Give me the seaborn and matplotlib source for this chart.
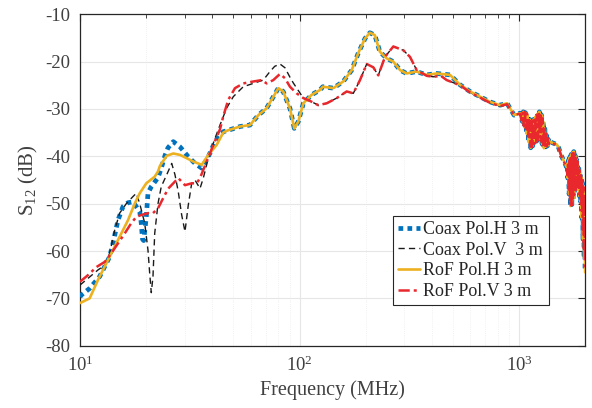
import matplotlib
matplotlib.use("Agg")
import matplotlib.pyplot as plt
import seaborn as sns
import pandas as pd
from matplotlib.ticker import LogLocator, MultipleLocator

# ---------------- data ----------------
# low band, individual per series
freq_coax_h = [10.0, 10.14, 11.07, 12.29, 13.65, 14.13, 14.89, 15.70, 16.54, 17.43, 18.71, 19.01,
               19.26, 19.5, 20.04, 20.40, 21.12, 22.66, 23.45, 24.4, 25.16, 26.6, 28.54, 31.13,
               33.40, 35.84, 38.39, 41.19, 44.9]
s12_coax_h = [-69.7, -69.3, -67.9, -65.4, -61.2, -58.4, -53.5, -50.6, -49.8, -49.6, -51.7, -54.1,
              -57.5, -57.8, -52.8, -47.8, -46.4, -44.5, -42.5, -39.8, -38.2, -36.9, -38.0, -40.1,
              -41.5, -42.5, -40.1, -36.9, -34.8]

freq_rof_h = [10.0, 11.07, 12.08, 13.41, 14.89, 16.54, 17.75, 18.71, 20.04, 21.89, 22.66, 23.13,
              24.82, 26.60, 28.54, 30.61, 32.81, 35.84, 38.39, 41.9, 44.9]
s12_rof_h = [-71.0, -70.0, -66.1, -61.9, -57.7, -53.5, -50.0, -47.8, -45.7, -44.3, -43.2, -42.0,
             -39.9, -39.4, -39.7, -40.4, -41.1, -41.8, -39.7, -37.6, -35.0]

freq_coax_v = [10.0, 10.87, 12.08, 12.96, 13.65, 14.39, 15.16, 16.25, 17.43, 18.05, 18.71, 19.71,
               20.40, 20.77, 21.12, 21.50, 21.89, 22.66, 23.45, 24.82, 26.16, 27.08, 28.03, 29.05,
               30.07, 31.13, 32.26, 33.40, 35.19, 36.44, 38.39, 41.19, 43.4, 46.56, 49.9, 55.4,
               61.5, 68.3, 73.3, 77.0, 81.4, 85.8, 90.4, 93.6, 100.0]
s12_coax_v = [-67.2, -65.8, -64.0, -63.0, -60.5, -55.6, -52.0, -50.0, -48.5, -47.8, -50.0, -54.1,
              -59.8, -64.7, -68.8, -65.4, -56.3, -50.0, -46.4, -43.9, -41.5, -43.9, -47.5, -52.4,
              -55.9, -50.3, -45.7, -45.0, -46.8, -44.6, -40.4, -36.2, -33.4, -29.8, -27.4, -25.3,
              -24.6, -23.9, -22.1, -21.0, -20.5, -21.3, -23.3, -24.5, -26.5]

freq_rof_v = [10.0, 10.87, 11.87, 12.96, 13.88, 14.89, 15.98, 17.13, 18.05, 19.01, 20.40, 21.50,
              22.66, 23.88, 25.24, 28.03, 30.07, 32.26, 34.0, 35.19, 37.76, 40.46, 43.4, 44.9,
              47.3, 50.8, 55.4, 61.5, 67.2, 70.8, 75.9, 81.4, 85.8, 90.4, 97.0]
s12_rof_v = [-66.5, -65.1, -63.4, -62.3, -60.5, -58.4, -56.3, -54.1, -52.8, -52.4, -52.0, -52.0,
             -51.0, -48.9, -46.8, -44.6, -46.1, -45.7, -45.7, -44.6, -41.1, -37.6, -34.3, -31.6,
             -28.1, -25.6, -24.6, -24.2, -23.9, -24.6, -23.9, -22.6, -23.5, -25.3, -26.7]

# shared upper band, horizontal polarisation
freq_hi_h = [46.6, 53.6, 59.4, 64.9, 70.6, 76.0, 80.0, 84.2, 90.4, 94.6, 98.6, 104, 113.5, 123.8,
             127.6, 142.4, 158, 172.7, 185, 198.6, 209, 220, 232, 249, 267, 287, 307, 341, 379,
             421, 484, 538, 597, 663, 736, 818, 880, 948, 1008]
s12_hi_h = [-34.6, -33.7, -33.4, -31.3, -29.9, -27.4, -25.6, -26.3, -29.9, -34.1, -32.7, -28.8,
            -27.0, -26.0, -25.3, -25.6, -24.2, -21.8, -18.2, -15.1, -13.9, -14.4, -17.9, -19.3,
            -20.0, -21.8, -22.5, -22.1, -22.8, -22.5, -22.8, -24.9, -26.3, -27.4, -28.5, -29.2,
            -28.8, -31.3, -30.9]
# shared upper band, vertical polarisation
freq_hi_v = [104, 111.5, 121.7, 132.9, 147.6, 163.9, 175.6, 188.4, 202.1, 216.6, 228.2, 244.8,
             267.2, 296.7, 318.2, 341.5, 379.2, 406.3, 440, 467.5, 538, 597, 663, 736, 818, 880,
             948, 1008]
s12_hi_v = [-27.7, -28.3, -29.2, -28.8, -27.7, -26.3, -26.7, -23.9, -20.5, -21.2, -22.9, -19.0,
            -16.8, -17.6, -19.0, -21.8, -23.0, -23.2, -23.0, -23.9, -25.0, -26.5, -27.6, -28.7,
            -29.4, -29.0, -31.3, -31.0]

# ripple band 1 (about 1.0 - 1.4 GHz)
freq_n1_h = [1020, 1032, 1044, 1056, 1068, 1080, 1092, 1104, 1116, 1128, 1140, 1152, 1164, 1176,
             1188, 1200, 1212, 1224, 1236, 1248, 1260, 1272, 1284, 1296, 1308, 1320, 1332, 1344,
             1356, 1368]
s12_n1_h = [-31.0, -32.6, -30.6, -33.8, -30.8, -35.2, -31.4, -37.0, -32.2, -38.2, -32.6, -37.8,
            -32.2, -37.2, -31.6, -36.8, -31.0, -36.4, -30.6, -36.2, -31.2, -37.4, -32.6, -38.3,
            -34.2, -38.0, -35.6, -37.8, -36.4, -37.2]
freq_n1_v = [1026, 1038, 1050, 1062, 1074, 1086, 1098, 1110, 1122, 1134, 1146, 1158, 1170, 1182,
             1194, 1206, 1218, 1230, 1242, 1254, 1266, 1278, 1290, 1302, 1314, 1326, 1338, 1350,
             1362]
s12_n1_v = [-32.4, -30.8, -33.6, -30.6, -34.8, -31.0, -36.4, -31.8, -38.0, -32.6, -38.0, -32.4,
            -37.4, -31.8, -37.0, -31.2, -36.6, -30.8, -36.0, -30.8, -37.0, -32.0, -38.2, -33.6,
            -38.3, -35.2, -37.9, -36.2, -37.4]

# between ripple bands
freq_mid = [1381, 1426, 1482, 1507, 1562, 1600, 1640]
s12_mid_h = [-36.9, -37.2, -37.5, -38.0, -40.1, -41.0, -42.2]
s12_mid_v = [-37.0, -37.3, -37.6, -38.1, -40.2, -41.2, -42.3]

# ripple band 2 (about 1.65 - 2 GHz)
freq_n2_h = [1652, 1664, 1676, 1688, 1700, 1712, 1724, 1736, 1748, 1760, 1772, 1784, 1796, 1808,
             1820, 1832, 1844, 1856, 1868, 1880, 1892, 1904, 1916, 1928, 1940, 1952, 1964, 1976,
             1988, 1995]
s12_n2_h = [-41.6, -44.6, -40.8, -48.0, -40.2, -50.5, -39.6, -50.2, -39.2, -49.0, -39.0, -47.8,
            -39.8, -46.8, -40.6, -46.4, -41.6, -47.2, -42.6, -48.4, -43.4, -49.6, -44.4, -53.0,
            -45.6, -57.5, -47.0, -61.5, -49.5, -64.5]
freq_n2_v = [1658, 1670, 1682, 1694, 1706, 1718, 1730, 1742, 1754, 1766, 1778, 1790, 1802, 1814,
             1826, 1838, 1850, 1862, 1874, 1886, 1898, 1910, 1922, 1934, 1946, 1958, 1970, 1982,
             1995]
s12_n2_v = [-44.0, -41.2, -47.0, -40.4, -50.3, -39.8, -50.4, -39.4, -49.4, -39.0, -48.2, -39.4,
            -47.2, -40.2, -46.4, -41.0, -46.8, -42.2, -48.0, -43.0, -49.0, -44.0, -51.5, -45.0,
            -55.5, -46.4, -59.5, -48.0, -64.0]

labels = ["Coax Pol.H 3 m", "Coax Pol.V  3 m", "RoF Pol.H 3 m", "RoF Pol.V 3 m"]

# ---------------- assemble ----------------
hi_h_f = freq_hi_h + freq_n1_h + freq_mid + freq_n2_h
hi_h_v = s12_hi_h + s12_n1_h + s12_mid_h + s12_n2_h
hi_v_f = freq_hi_v + freq_n1_v + freq_mid + freq_n2_v
hi_v_v = s12_hi_v + s12_n1_v + s12_mid_v + s12_n2_v

series = {
    labels[0]: (freq_coax_h + hi_h_f, s12_coax_h + hi_h_v),
    labels[1]: (freq_coax_v + hi_v_f, s12_coax_v + hi_v_v),
    labels[2]: (freq_rof_h + hi_h_f, s12_rof_h + hi_h_v),
    labels[3]: (freq_rof_v + hi_v_f, s12_rof_v + hi_v_v),
}
frames = []
for name, (f, v) in series.items():
    frames.append(pd.DataFrame({"freq": f, "s12": v, "series": name}))
df = pd.concat(frames, ignore_index=True)

# ---------------- style ----------------
sns.set_style("white")
plt.rcParams["font.family"] = ["Liberation Serif", "DejaVu Serif"]
plt.rcParams["mathtext.fontset"] = "custom"
plt.rcParams["mathtext.rm"] = "Liberation Serif"
plt.rcParams["mathtext.it"] = "Liberation Serif:italic"
plt.rcParams["mathtext.default"] = "regular"
plt.rcParams["axes.unicode_minus"] = False

styles = {
    labels[0]: dict(color="#0072BD", lw=3.4, ls=(0, (1.0, 0.9)), zorder=3),
    labels[1]: dict(color="#1a1a1a", lw=1.0, ls=(0, (4.5, 3.0)), zorder=4),
    labels[2]: dict(color="#EDB120", lw=1.9, ls="-", zorder=5),
    labels[3]: dict(color="#E8282D", lw=1.8, ls=(0, (4.5, 1.6, 1.2, 1.6)), zorder=6),
}

fig = plt.figure(figsize=(5.92, 4.08), dpi=100)
ax = fig.add_axes([0.1351, 0.1527, 0.8536, 0.8123])

for name in labels:
    st = styles[name]
    sns.lineplot(data=df[df["series"] == name], x="freq", y="s12", ax=ax,
                 estimator=None, sort=False, color=st["color"], linewidth=st["lw"],
                 linestyle=st["ls"], label=name, zorder=st["zorder"])

ax.set_xscale("log")
ax.set_xlim(10, 2000)
ax.set_ylim(-80, -10)
ax.yaxis.set_major_locator(MultipleLocator(10))
ax.xaxis.set_major_locator(LogLocator(base=10, numticks=10))
ax.xaxis.set_minor_locator(LogLocator(base=10, subs=range(2, 10), numticks=10))

ax.grid(True, which="major", color="#e6e6e6", linewidth=0.8)
ax.grid(True, which="minor", axis="x", color="#ededed", linewidth=0.6, linestyle=(0, (1, 1.5)))
ax.set_axisbelow(True)

for sp in ax.spines.values():
    sp.set_visible(True)
    sp.set_color("#262626")
    sp.set_linewidth(0.9)

ax.tick_params(which="both", direction="in", top=True, right=True, colors="#262626",
               labelcolor="#404040", labelsize=13.5, pad=7)
ax.tick_params(which="major", length=5, width=0.8)
ax.tick_params(which="minor", length=2.8, width=0.6)

ax.set_xlabel("Frequency (MHz)", fontsize=14.5, color="#404040", labelpad=4)
ax.set_ylabel(r"S$_{12}$ (dB)", fontsize=15, color="#404040", labelpad=4)

leg = ax.legend(loc="upper left", bbox_to_anchor=(0.619, 0.392), fontsize=13,
                frameon=True, fancybox=False, framealpha=1, edgecolor="#262626",
                handlelength=1.2, handletextpad=0.2, labelspacing=0.2,
                borderpad=0.3, borderaxespad=0)
leg.get_frame().set_linewidth(0.8)
for t in leg.get_texts():
    t.set_color("#262626")

fig.savefig("out.png", dpi=100)
